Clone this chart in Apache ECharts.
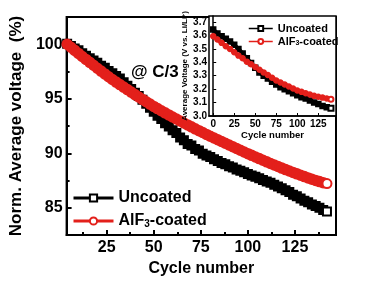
<!DOCTYPE html>
<html><head><meta charset="utf-8">
<script src="https://cdn.jsdelivr.net/npm/echarts@6/dist/echarts.min.js"></script>
<style>html,body{margin:0;padding:0;background:#fff}#c{width:370px;height:293px}</style>
</head><body><div id="c"></div>
<script>
const FONT = '"Liberation Sans", Arial, sans-serif';
const BLACK = '#000000';
const RED = '#e3201b';

// main panel: cycle numbers (every 2nd cycle from 4 to 142)
const mainCycleStart = 4, mainCycleStep = 2;
const uncoatedNorm = [100.05,99.85,99.62,99.45,99.18,98.95,98.72,98.52,98.30,98.02,
  97.85,97.55,97.35,97.08,96.85,96.52,96.20,95.90,95.55,95.25,
  94.90,94.55,94.18,93.80,93.45,93.15,92.75,92.45,92.10,91.85,
  91.45,91.20,90.85,90.70,90.40,90.25,89.95,89.80,89.65,89.45,
  89.30,89.10,88.98,88.80,88.70,88.50,88.40,88.25,88.10,87.95,
  87.85,87.70,87.55,87.40,87.30,87.10,86.95,86.80,86.60,86.45,
  86.20,86.05,85.85,85.65,85.50,85.30,85.15,85.00,84.80,84.65];
const coatedNorm = [100.0,99.72,99.44,99.16,98.88,98.61,98.34,98.07,97.80,97.54,
  97.28,97.02,96.77,96.53,96.30,96.07,95.84,95.61,95.38,95.16,
  94.94,94.72,94.51,94.30,94.10,93.90,93.71,93.52,93.33,93.14,
  92.96,92.78,92.60,92.42,92.24,92.07,91.90,91.73,91.56,91.40,
  91.24,91.08,90.92,90.76,90.60,90.44,90.28,90.12,89.96,89.81,
  89.66,89.51,89.36,89.21,89.06,88.92,88.78,88.64,88.50,88.37,
  88.24,88.11,87.98,87.86,87.74,87.62,87.51,87.40,87.30,87.22];

// inset: cycle numbers every 5 from 0 to 140
const insetCycles = [0,5,10,15,20,25,30,35,40,45,50,55,60,65,70,75,80,85,90,95,100,105,110,115,120,125,130,135,140];
const uncoatedV = [3.645,3.615,3.595,3.575,3.555,3.530,3.500,3.465,3.430,3.395,3.360,3.325,3.300,3.280,3.255,
  3.235,3.215,3.200,3.185,3.170,3.155,3.140,3.130,3.115,3.100,3.090,3.075,3.065,3.057];
const coatedV = [3.595,3.570,3.545,3.520,3.500,3.475,3.450,3.430,3.405,3.385,3.365,3.345,3.325,3.305,3.285,
  3.265,3.250,3.235,3.220,3.205,3.190,3.180,3.170,3.160,3.150,3.143,3.137,3.130,3.125];

const mainXTicks = [25,50,75,100,125];
const mainXMinor = [12.5,37.5,62.5,87.5,112.5,137.5];
const mainYTicks = [85,90,95,100];
const mainYMinor = [87.5,92.5,97.5];
const insetXTicks = [0,25,50,75,100,125];
const insetYTicks = [3.0,3.1,3.2,3.3,3.4,3.5,3.6,3.7];

const mainCycles = uncoatedNorm.map((_, i) => mainCycleStart + i * mainCycleStep);
// dense markers merge into a solid band; only the final marker shows hollow
const pair = (xs, ys, solid) => ys.map((y, i) =>
  i === ys.length - 1 ? {value: [xs[i], y]} : {value: [xs[i], y], symbol: solid});

const nameMap = {'Uncoated': 'Uncoated', 'AlF3-coated': 'AlF{s|3}-coated',
  'Uncoated ': 'Uncoated', 'AlF3-coated ': 'AlF{s|3}-coated'};

const chart = echarts.init(document.getElementById('c'), null, {renderer: 'canvas'});
chart.setOption({
  animation: false,
  backgroundColor: '#fff',
  textStyle: {fontFamily: FONT, fontWeight: 'bold', color: '#000'},
  grid: [
    {left: 64, top: 17, right: 34, bottom: 58, show: true, borderColor: '#000', borderWidth: 2, backgroundColor: 'transparent', z: 0},
    {left: 209, top: 16, right: 34, bottom: 177, show: true, borderColor: '#000', borderWidth: 1.5, backgroundColor: '#fff', z: 5}
  ],
  xAxis: [
    {type: 'value', gridIndex: 0, min: 3.7, max: 146.8, position: 'bottom',
      name: 'Cycle number', nameLocation: 'middle', nameGap: 23,
      nameTextStyle: {fontFamily: FONT, fontWeight: 'bold', fontSize: 16, color: '#000'},
      axisLine: {show: true, lineStyle: {color: '#000', width: 2}},
      axisTick: {show: true, inside: true, length: 5, lineStyle: {width: 2, color: '#000'}, customValues: mainXTicks},
      axisLabel: {fontFamily: FONT, fontWeight: 'bold', fontSize: 16, color: '#000', margin: 5, customValues: mainXTicks},
      splitLine: {show: false}},
    {type: 'value', gridIndex: 0, min: 3.7, max: 146.8, position: 'bottom',
      axisLine: {show: false},
      axisTick: {show: true, inside: true, length: 3, lineStyle: {width: 2, color: '#000'}, customValues: mainXMinor},
      axisLabel: {show: false}, splitLine: {show: false}},
    {type: 'value', gridIndex: 1, min: -5, max: 146, position: 'bottom', z: 6,
      name: 'Cycle number', nameLocation: 'middle', nameGap: 13,
      nameTextStyle: {fontFamily: FONT, fontWeight: 'bold', fontSize: 9.5, color: '#000'},
      axisLine: {show: true, lineStyle: {color: '#000', width: 1.5}},
      axisTick: {show: true, inside: true, length: 3, lineStyle: {width: 1, color: '#000'}, customValues: insetXTicks},
      axisLabel: {fontFamily: FONT, fontWeight: 'bold', fontSize: 10, color: '#000', margin: 3, customValues: insetXTicks},
      splitLine: {show: false}}
  ],
  yAxis: [
    {type: 'value', gridIndex: 0, min: 82.5, max: 102.5,
      name: 'Norm. Average voltage  (%)', nameLocation: 'middle', nameGap: 31, nameRotate: 90,
      nameTextStyle: {fontFamily: FONT, fontWeight: 'bold', fontSize: 17, color: '#000'},
      axisLine: {show: true, lineStyle: {color: '#000', width: 2}},
      axisTick: {show: true, inside: true, length: 5, lineStyle: {width: 2, color: '#000'}, customValues: mainYTicks},
      axisLabel: {fontFamily: FONT, fontWeight: 'bold', fontSize: 16, color: '#000', margin: 4, customValues: mainYTicks},
      splitLine: {show: false}},
    {type: 'value', gridIndex: 0, min: 82.5, max: 102.5, position: 'left',
      axisLine: {show: false},
      axisTick: {show: true, inside: true, length: 3, lineStyle: {width: 2, color: '#000'}, customValues: mainYMinor},
      axisLabel: {show: false}, splitLine: {show: false}},
    {type: 'value', gridIndex: 1, min: 3.0, max: 3.745, z: 6,
      name: 'Average Voltage (V vs. Li/Li{p|+})', nameLocation: 'middle', nameGap: 20, nameRotate: 90,
      nameTextStyle: {fontFamily: FONT, fontWeight: 'bold', fontSize: 8, color: '#000',
        rich: {p: {fontFamily: FONT, fontWeight: 'bold', fontSize: 5, verticalAlign: 'top'}}},
      axisLine: {show: true, lineStyle: {color: '#000', width: 1.5}},
      axisTick: {show: true, inside: true, length: 3, lineStyle: {width: 1, color: '#000'}, customValues: insetYTicks},
      axisLabel: {fontFamily: FONT, fontWeight: 'bold', fontSize: 10, color: '#000', margin: 2, customValues: insetYTicks,
        formatter: v => v.toFixed(1)},
      splitLine: {show: false}}
  ],
  legend: [
    {data: ['Uncoated', 'AlF3-coated'], orient: 'vertical', left: 72, top: 190, padding: 0,
      itemWidth: 40, itemHeight: 9, itemGap: 7,
      lineStyle: {width: 3}, itemStyle: {borderWidth: 2},
      formatter: n => nameMap[n],
      textStyle: {fontFamily: FONT, fontWeight: 'bold', fontSize: 16, color: '#000',
        rich: {s: {fontFamily: FONT, fontWeight: 'bold', fontSize: 10, padding: [6, 0, 0, 0], color: '#000'}}}},
    {data: ['Uncoated ', 'AlF3-coated '], orient: 'vertical', left: 248, top: 23, z: 8, padding: 0,
      itemWidth: 24, itemHeight: 6, itemGap: 2,
      lineStyle: {width: 1.5}, itemStyle: {borderWidth: 1.2},
      formatter: n => nameMap[n],
      textStyle: {fontFamily: FONT, fontWeight: 'bold', fontSize: 11, color: '#000',
        rich: {s: {fontFamily: FONT, fontWeight: 'bold', fontSize: 7, padding: [4, 0, 0, 0], color: '#000'}}}}
  ],
  graphic: [
    {type: 'text', left: 131, top: 64, z: 10,
      style: {text: '@ C/3', fontFamily: FONT, fontWeight: 'bold', fontSize: 17, fill: '#000'}}
  ],
  series: [
    {name: 'Uncoated', type: 'line', xAxisIndex: 0, yAxisIndex: 0, data: pair(mainCycles, uncoatedNorm, 'rect'),
      symbol: 'emptyRect', symbolSize: 8, z: 3,
      lineStyle: {color: BLACK, width: 6}, itemStyle: {color: BLACK, borderColor: BLACK, borderWidth: 2}},
    {name: 'AlF3-coated', type: 'line', xAxisIndex: 0, yAxisIndex: 0, data: pair(mainCycles, coatedNorm, 'circle'),
      symbol: 'emptyCircle', symbolSize: 9, z: 4,
      lineStyle: {color: RED, width: 6}, itemStyle: {color: RED, borderColor: RED, borderWidth: 2.5}},
    {name: 'Uncoated ', type: 'line', xAxisIndex: 2, yAxisIndex: 2, data: pair(insetCycles, uncoatedV, 'rect'),
      symbol: 'emptyRect', symbolSize: 5, z: 7,
      lineStyle: {color: BLACK, width: 4}, itemStyle: {color: BLACK, borderColor: BLACK, borderWidth: 1.5}},
    {name: 'AlF3-coated ', type: 'line', xAxisIndex: 2, yAxisIndex: 2, data: pair(insetCycles, coatedV, 'circle'),
      symbol: 'emptyCircle', symbolSize: 5, z: 7,
      lineStyle: {color: RED, width: 4}, itemStyle: {color: RED, borderColor: RED, borderWidth: 1.5}}
  ]
});
</script></body></html>
